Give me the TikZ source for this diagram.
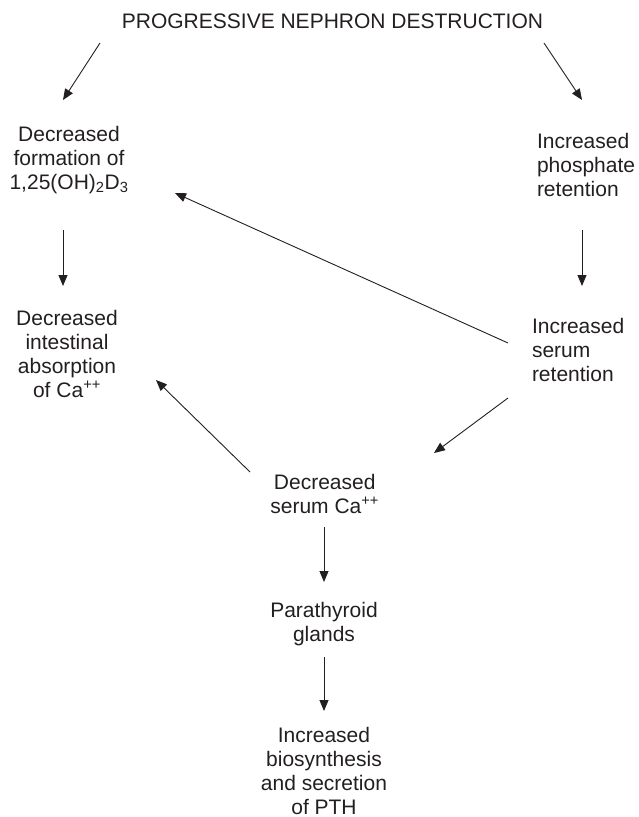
\documentclass[tikz,border=0pt]{standalone}
\usepackage{fontspec}
\setmainfont{Liberation Sans}
\usetikzlibrary{arrows.meta}
\definecolor{ink}{HTML}{231F20}
\begin{document}
\begin{tikzpicture}[x=1pt,y=1pt,
  lbl/.style={inner sep=0pt,outer sep=0pt,text=ink,font=\fontsize{21}{24}\selectfont},
  arr/.style={draw=ink,line width=0.9pt,-{Triangle[length=11pt,width=9pt]}}]
\useasboundingbox (0,0) rectangle (639,-817);
\node[lbl,anchor=base] (title) at (332.5,-28) {PROGRESSIVE NEPHRON DESTRUCTION};
\node[lbl,anchor=north,align=center] (form) at (69,-126.6) {Decreased\\formation of\\1,25(OH)\textsubscript{2}D\textsubscript{3}};
\node[lbl,anchor=north west,align=left] (phos) at (537,-133) {Increased\\phosphate\\retention};
\node[lbl,anchor=north,align=center] (intest) at (67,-310) {Decreased\\intestinal\\absorption\\of Ca\textsuperscript{++}};
\node[lbl,anchor=north west,align=left] (serumret) at (532,-318) {Increased\\serum\\retention};
\node[lbl,anchor=north,align=center] (dca) at (324.7,-474) {Decreased\\serum Ca\textsuperscript{++}};
\node[lbl,anchor=north,align=center] (para) at (324,-602) {Parathyroid\\glands};
\node[lbl,anchor=north,align=center] (pth) at (324,-727) {Increased\\biosynthesis\\and secretion\\of PTH};
\draw[arr] ([xshift=-232.5,yshift=-15]title.base) -- ([xshift=-6,yshift=26.6]form.north);
\draw[arr] ([xshift=211.5,yshift=-15]title.base) -- ([xshift=45,yshift=33]phos.north west);
\draw[arr] ([xshift=-6,yshift=-103.4]form.north) -- ([xshift=-4,yshift=24]intest.north);
\draw[arr] ([xshift=45,yshift=-97]phos.north west) -- ([xshift=50,yshift=32]serumret.north west);
\draw[arr] ([xshift=-24,yshift=-25]serumret.north west) -- ([xshift=106,yshift=-66.4]form.north);
\draw[arr] ([xshift=-24,yshift=-80]serumret.north west) -- ([xshift=109.3,yshift=21]dca.north);
\draw[arr] ([xshift=-74.7,yshift=2]dca.north) -- ([xshift=89,yshift=-70]intest.north);
\draw[arr] ([xshift=-0.7,yshift=-53]dca.north) -- ([yshift=20]para.north);
\draw[arr] ([yshift=-55]para.north) -- ([yshift=16]pth.north);
\end{tikzpicture}
\end{document}
